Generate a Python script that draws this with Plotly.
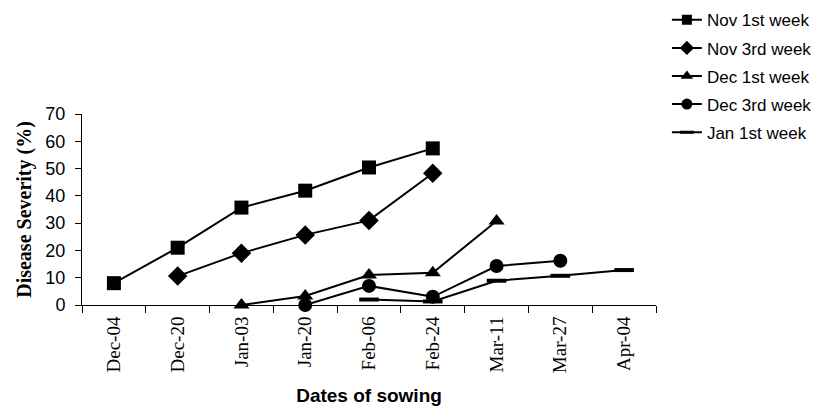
import plotly.graph_objects as go

dates = ["Dec-04", "Dec-20", "Jan-03", "Jan-20", "Feb-06", "Feb-24", "Mar-11", "Mar-27", "Apr-04"]

nov1_x = ["Dec-04", "Dec-20", "Jan-03", "Jan-20", "Feb-06", "Feb-24"]
nov1_y = [8.0, 21.0, 35.7, 41.9, 50.4, 57.4]

nov3_x = ["Dec-20", "Jan-03", "Jan-20", "Feb-06", "Feb-24"]
nov3_y = [10.6, 19.0, 25.7, 31.0, 48.3]

dec1_x = ["Jan-03", "Jan-20", "Feb-06", "Feb-24", "Mar-11"]
dec1_y = [0.0, 3.3, 11.0, 11.8, 30.8]

dec3_x = ["Jan-20", "Feb-06", "Feb-24", "Mar-11", "Mar-27"]
dec3_y = [0.0, 7.0, 3.0, 14.3, 16.2]

jan1_x = ["Feb-06", "Feb-24", "Mar-11", "Mar-27", "Apr-04"]
jan1_y = [2.0, 1.3, 8.9, 10.7, 12.8]

# name, x, y, symbol, plot size, legend size, marker line width
series = [
    ("Nov 1st week", nov1_x, nov1_y, "square", 14, 10, 0),
    ("Nov 3rd week", nov3_x, nov3_y, "diamond", 15, 11, 0),
    ("Dec 1st week", dec1_x, dec1_y, "triangle-up", 14, 11, 0),
    ("Dec 3rd week", dec3_x, dec3_y, "circle", 14, 11, 0),
    ("Jan 1st week", jan1_x, jan1_y, "line-ew", 14, 10, 4),
]

fig = go.Figure()
for i, (name, xs, ys, sym, size, lsize, lw) in enumerate(series):
    fig.add_trace(go.Scatter(
        x=xs, y=ys, name=name, mode="lines+markers",
        line=dict(color="black", width=2),
        marker=dict(symbol=sym, size=size, color="black",
                    line=dict(color="black", width=lw)),
        showlegend=False,
        cliponaxis=False,
    ))
    # legend entry with smaller marker (no data drawn)
    fig.add_trace(go.Scatter(
        x=[None], y=[None], name=name, mode="lines+markers",
        line=dict(color="black", width=2),
        marker=dict(symbol=sym, size=lsize, color="black",
                    line=dict(color="black", width=(3 if lw else 0))),
        legendgroup=f"g{i}",
        showlegend=True,
    ))

fig.update_layout(
    width=830, height=413,
    margin=dict(l=74, r=182, t=106, b=116, autoexpand=False),
    paper_bgcolor="white", plot_bgcolor="white",
    font=dict(family="Liberation Sans, Arial", color="black", size=17),
    legend=dict(
        x=1.019, y=1.585, xref="paper", yref="paper", xanchor="left", yanchor="top",
        font=dict(size=17, family="Liberation Sans, Arial"),
        traceorder="grouped", tracegroupgap=3,
        bgcolor="rgba(0,0,0,0)",
    ),
    xaxis=dict(
        type="category", categoryorder="array", categoryarray=dates,
        range=[-0.5, 8.5],
        tickvals=dates, ticktext=dates,
        tickson="boundaries", ticks="outside", ticklen=7, tickcolor="black",
        showline=True, linecolor="black", linewidth=1,
        showgrid=False, zeroline=False,
        tickangle=-90, automargin=False,
        ticklabelstandoff=3,
        tickfont=dict(family="Liberation Serif, Times New Roman", size=19),
        title=dict(text="<b>Dates of sowing</b>", font=dict(family="Liberation Sans, Arial", size=19), standoff=16),
    ),
    yaxis=dict(
        range=[0, 70], tickvals=[0, 10, 20, 30, 40, 50, 60, 70],
        ticks="outside", ticklen=6, tickcolor="black",
        showline=True, linecolor="black", linewidth=1,
        showgrid=False, zeroline=False, automargin=False,
        ticklabelstandoff=6,
        tickfont=dict(family="Liberation Sans, Arial", size=18),
        title=dict(text="<b>Disease Severity (%)</b>", font=dict(family="Liberation Serif, Times New Roman", size=20), standoff=8),
    ),
)

fig.write_html("out.html")
